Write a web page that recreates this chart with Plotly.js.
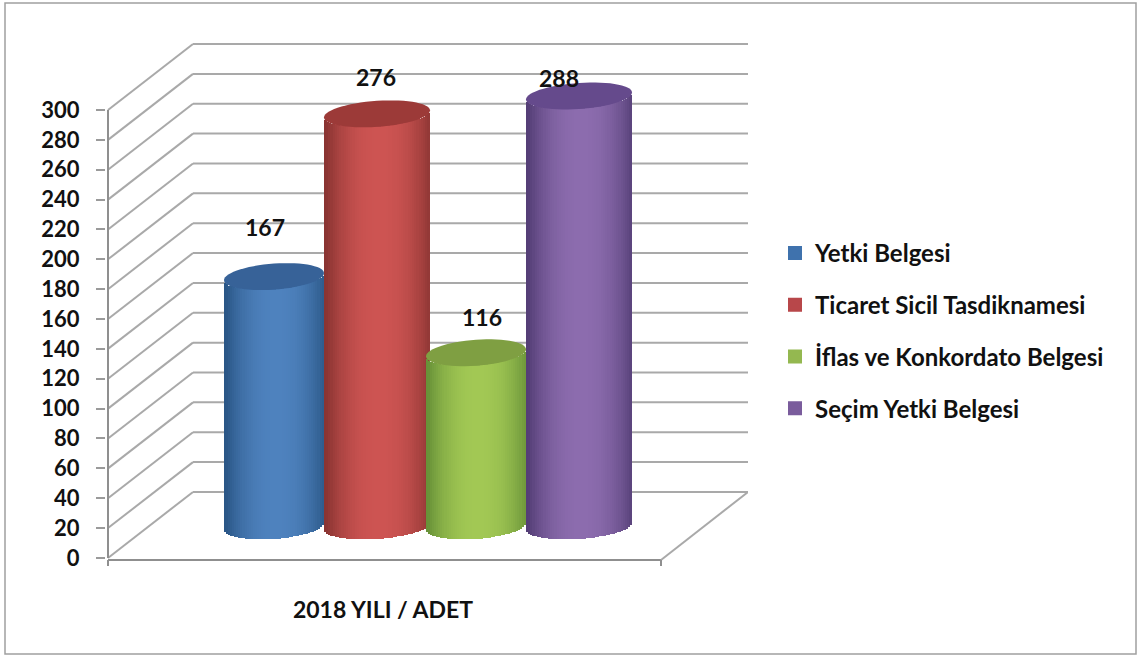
<!DOCTYPE html>
<html><head><meta charset="utf-8">
<script src="https://cdn.plot.ly/plotly-3.0.1.min.js"></script>
<style>html,body{margin:0;padding:0;background:#fff}</style></head>
<body><div id="chart" style="width:1142px;height:658px"></div>
<script>
// ---- data ----
const seriesNames = ["Yetki Belgesi","Ticaret Sicil Tasdiknamesi","İflas ve Konkordato Belgesi","Seçim Yetki Belgesi"];
const seriesValues = [167,276,116,288];
const categoryLabel = "2018 YILI / ADET";
const yTicks = [0,20,40,60,80,100,120,140,160,180,200,220,240,260,280,300];
// ---- styling ----
const baseColors = ["#3f72ad","#b8474a","#94b850","#7a5c9c"];
const midColors  = [[78,130,190],[205,84,82],[162,200,84],[140,108,174]];
const edgeColors = [[42,86,134],[138,52,50],[104,146,56],[84,62,118]];
const topColors  = ["#376298","#9c3a38","#7f9f42","#654a8c"];
const cxs = [166,269,368,471];      // cylinder centres on the horizontal scale
const widths = [100,106,100,106];
const pxY = 1.4933;                 // px per y unit
const floorOff = 32/pxY, halfH = 13/pxY, tilt = 3.5/pxY;
const depthX = 85, depthY = 66/pxY;
const frontLen = 553;
const labelShift = [[-9,-50],[-1,-37],[6,-36],[-20,-18]];
const FONT = "Lato, 'Open Sans', sans-serif";
const NS = 48;

const traces = [], shapes = [], annotations = [];
const line = {color:"#a9a9a9",width:2};
const seg = (x0,y0,x1,y1,l)=>({type:"line",xref:"x",yref:"y",x0,y0,x1,y1,line:l||line,layer:"below"});

yTicks.forEach(v=>{
  shapes.push(seg(0,v,depthX,v+depthY));
  shapes.push(seg(depthX,v+depthY,640,v+depthY));
});
const axisLine = {color:"#8f8f8f",width:2};
shapes.push(seg(0,0,0,300,axisLine));
shapes.push(seg(0,-1.4,frontLen,-1.4,axisLine));
shapes.push(seg(frontLen,-1.4,640,depthY,line));
shapes.push(seg(0,-1.4,0,-6,axisLine));
shapes.push(seg(frontLen,-1.4,frontLen,-6,axisLine));

seriesValues.forEach((val,i)=>{
  const cx=cxs[i], w=widths[i];
  // legend-carrying core bar
  traces.push({type:"bar",name:seriesNames[i],legendgroup:"g"+i,x:[cx],y:[val],base:[floorOff],width:[w*0.8],
    marker:{color:baseColors[i],line:{width:2,color:baseColors[i]}},hoverinfo:"name+y"});
  // shaded cylinder wall drawn as narrow slices of the same value
  const xs=[],bs=[],ys=[],cs=[];
  for(let k=0;k<NS;k++){
    const t=(k+0.5)/NS*2-1;
    xs.push(cx+t*w/2);
    bs.push(floorOff+tilt*t-halfH*Math.sqrt(1-t*t));
    ys.push(val);
    const m=Math.pow(Math.abs(t-0.05),2.2);
    const c=midColors[i].map((a,j)=>Math.round(a+(edgeColors[i][j]-a)*Math.min(1,m)));
    cs.push(`rgb(${c})`);
  }
  traces.push({type:"bar",showlegend:false,legendgroup:"g"+i,x:xs,y:ys,base:bs,width:w/NS+0.6,
    marker:{color:cs,line:{width:0}},hoverinfo:"skip"});
  // top ellipse
  let p="";
  for(let k=0;k<=60;k++){
    const a=k/60*2*Math.PI, t=Math.cos(a);
    const px=cx+t*w/2, py=floorOff+val+tilt*t+halfH*Math.sin(a);
    p+=(k?"L":"M")+px.toFixed(2)+","+py.toFixed(2);
  }
  shapes.push({type:"path",xref:"x",yref:"y",path:p+"Z",fillcolor:topColors[i],line:{width:0},layer:"above"});
  annotations.push({x:cx,y:floorOff+val,xref:"x",yref:"y",text:String(val),showarrow:false,
    xshift:labelShift[i][0],yshift:-labelShift[i][1],font:{family:FONT,size:23,color:"#111",weight:700}});
});

// outer frame
shapes.push({type:"rect",xref:"paper",yref:"paper",x0:-101/642,x1:1030/642,y0:-88/526,y1:(526+37)/526,
  line:{color:"#a0a0a0",width:1.5},fillcolor:"rgba(0,0,0,0)",layer:"below"});

const layout={
  width:1142,height:658,
  margin:{l:106,r:394,t:40,b:92,pad:0},
  paper_bgcolor:"#fff",plot_bgcolor:"#fff",
  barmode:"overlay",bargap:0,
  font:{family:FONT,color:"#111"},
  xaxis:{range:[-2,640],showgrid:false,zeroline:false,showline:false,
    tickmode:"array",tickvals:[275],ticktext:[categoryLabel],ticks:"outside",ticklen:23,tickcolor:"rgba(0,0,0,0)",
    tickfont:{family:FONT,size:23,weight:700,color:"#111"}},
  yaxis:{range:[-5.4,346.9],showgrid:false,zeroline:false,showline:false,
    tickmode:"array",tickvals:yTicks,ticks:"outside",ticklen:9,tickcolor:"#9a9a9a",tickwidth:2,
    ticklabelstandoff:12,
    tickfont:{family:FONT,size:22,weight:700,color:"#111"}},
  legend:{x:(775-106)/642,xanchor:"left",y:1-(231-40)/526,yanchor:"top",tracegroupgap:17.5,
    bgcolor:"rgba(0,0,0,0)",font:{family:FONT,size:24,weight:700,color:"#111"},traceorder:"grouped",itemclick:false,itemdoubleclick:false},
  shapes,annotations
};
Plotly.newPlot("chart",traces,layout,{displayModeBar:false,responsive:false});
</script></body></html>
